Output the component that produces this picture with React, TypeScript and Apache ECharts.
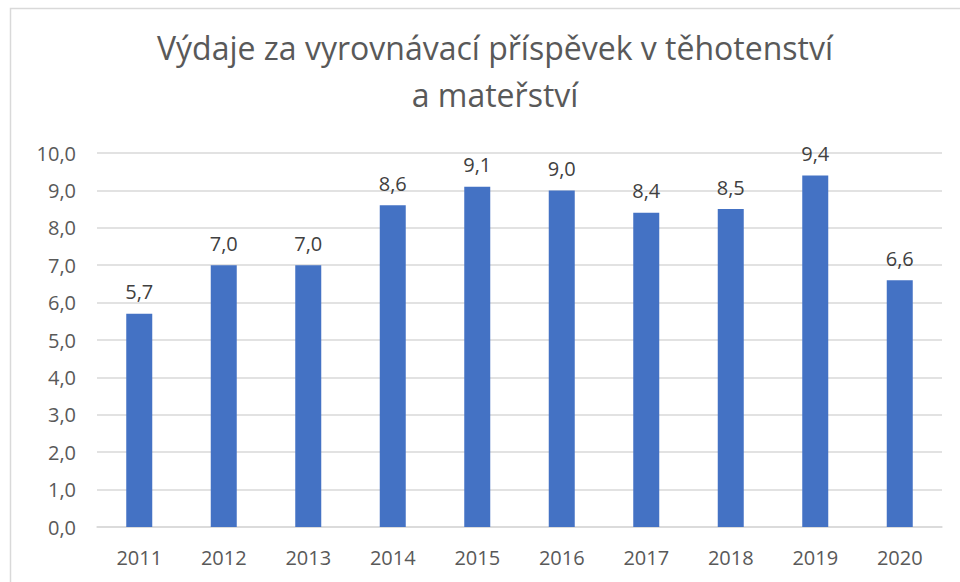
import React, { useEffect, useRef } from "react";
import * as echarts from "echarts";

const categories = ["2011", "2012", "2013", "2014", "2015", "2016", "2017", "2018", "2019", "2020"];
const values = [5.7, 7.0, 7.0, 8.6, 9.1, 9.0, 8.4, 8.5, 9.4, 6.6];
const titleLines = ["Výdaje za vyrovnávací příspěvek v těhotenství", "a mateřství"];

const fmt = (v: number) => v.toFixed(1).replace(".", ",");

export default function App() {
  const ref = useRef<HTMLDivElement>(null);
  useEffect(() => {
    document.body.style.margin = "0";
    const chart = echarts.init(ref.current!, null, { renderer: "svg" });
    chart.setOption({
      animation: false,
      backgroundColor: "#ffffff",
      textStyle: { fontFamily: "Open Sans" },
      graphic: [
        {
          type: "rect",
          shape: { x: 10.5, y: 8.5, width: 1000, height: 1000 },
          style: { fill: "none", stroke: "#d9d9d9", lineWidth: 1.5 },
          silent: true,
        },
      ],
      title: {
        text: titleLines.join("\n"),
        left: 490,
        textAlign: "center",
        top: 19,
        textStyle: {
          fontFamily: "Open Sans",
          fontSize: 32,
          fontWeight: "normal",
          color: "#595959",
          lineHeight: 47,
        },
      },
      grid: { left: 97, right: 18, top: 153, bottom: 55, containLabel: false },
      xAxis: {
        type: "category",
        data: categories,
        axisLine: { show: true, lineStyle: { color: "#d9d9d9", width: 1.5 } },
        axisTick: { show: false },
        axisLabel: { color: "#595959", fontSize: 20, margin: 20, fontFamily: "Open Sans" },
      },
      yAxis: {
        type: "value",
        min: 0,
        max: 10,
        interval: 1,
        axisLine: { show: false },
        axisTick: { show: false },
        splitLine: { lineStyle: { color: "#d9d9d9", width: 1.5 } },
        axisLabel: {
          color: "#595959",
          fontSize: 20,
          margin: 21,
          fontFamily: "Open Sans",
          formatter: (v: number) => fmt(v),
        },
      },
      series: [
        {
          type: "bar",
          data: values,
          barWidth: 26,
          itemStyle: { color: "#4472C4" },
          label: {
            show: true,
            position: "top",
            distance: 12,
            color: "#404040",
            fontSize: 20,
            fontFamily: "Open Sans",
            formatter: (p: any) => fmt(p.value),
          },
        },
      ],
    });
    return () => chart.dispose();
  }, []);
  return <div ref={ref} style={{ width: 960, height: 582 }} />;
}
